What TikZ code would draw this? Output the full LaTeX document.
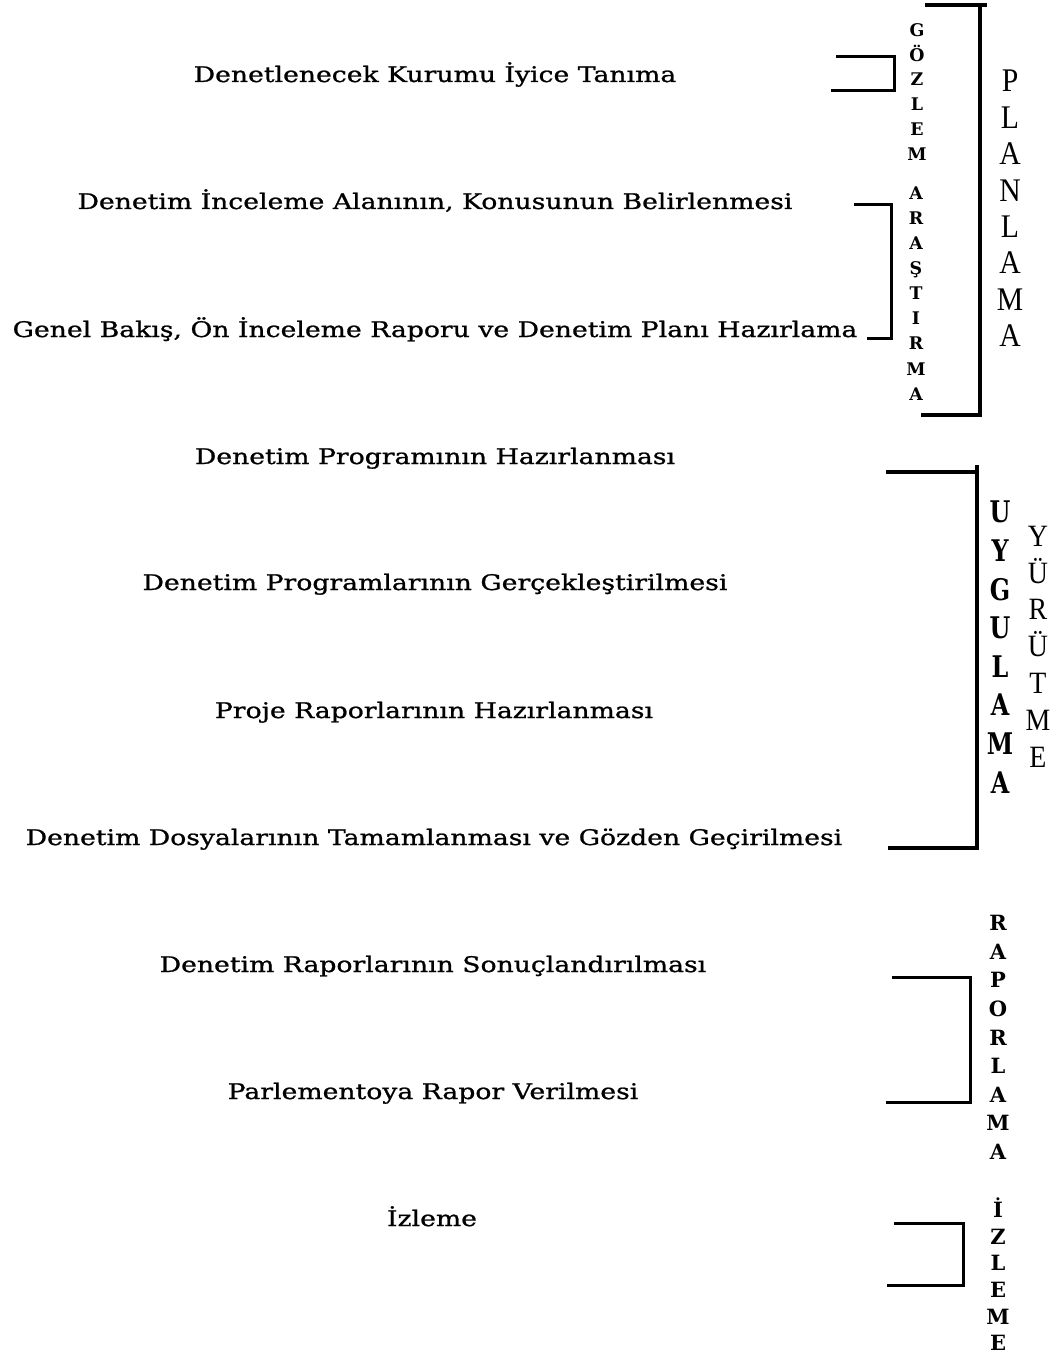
\documentclass[tikz,border=0pt]{standalone}
\usepackage{fontspec}
\setmainfont{DejaVu Serif}
\newfontfamily\bodyfont[FakeStretch=1.24,FakeBold=1]{DejaVu Serif}
\newfontfamily\smallbold[FakeStretch=1.0]{DejaVu Serif Bold}
\newfontfamily\tallbold[FakeStretch=0.8]{DejaVu Serif Bold}
\newfontfamily\romanletters[FakeStretch=0.9]{Liberation Serif}

\tikzset{
  item/.style={font=\bodyfont\fontsize{21.5}{24}\selectfont, anchor=base, inner sep=0pt},
  letter/.style={inner sep=0pt, text depth=0pt, anchor=center},
  gozletter/.style={letter, font=\smallbold\fontsize{17.4}{20}\selectfont, text height=12.7pt},
  rapletter/.style={letter, font=\smallbold\fontsize{21}{24}\selectfont, text height=15.3pt},
  bigletter/.style={letter, font=\romanletters\fontsize{33}{36}\selectfont, text height=21.8pt},
  midletter/.style={letter, font=\romanletters\fontsize{31}{34}\selectfont, text height=20.5pt},
  boldletter/.style={letter, font=\tallbold\fontsize{29.8}{32}\selectfont, text height=21.7pt},
  bracket/.style={line width=3pt, line cap=rect},
  mainbracket/.style={line width=3.4pt, line cap=rect}
}

\begin{document}
\begin{tikzpicture}[x=1pt, y=-1pt]
  \useasboundingbox (0,0) rectangle (1063,1356);
  \fill[white] (0,0) rectangle (1063,1356);

  % audit steps, one per row
  \node[item] (t1)  at (435,82)   {Denetlenecek Kurumu İyice Tanıma};
  \node[item] (t2)  at (435,209)  {Denetim İnceleme Alanının, Konusunun Belirlenmesi};
  \node[item] (t3)  at (435,337)  {Genel Bakış, Ön İnceleme Raporu ve Denetim Planı Hazırlama};
  \node[item] (t4)  at (435,464)  {Denetim Programının Hazırlanması};
  \node[item] (t5)  at (435,590)  {Denetim Programlarının Gerçekleştirilmesi};
  \node[item] (t6)  at (434,718)  {Proje Raporlarının Hazırlanması};
  \node[item] (t7)  at (434,845)  {Denetim Dosyalarının Tamamlanması ve Gözden Geçirilmesi};
  \node[item] (t8)  at (433,972)  {Denetim Raporlarının Sonuçlandırılması};
  \node[item] (t9)  at (433,1099) {Parlementoya Rapor Verilmesi};
  \node[item] (t10) at (432,1226) {İzleme};

  % brackets grouping the steps
  \coordinate (gozA) at (837,57);  \coordinate (gozB) at (832,91);
  \draw[bracket] (gozA) -- (894,57) -- (894,91) -- (gozB);

  \coordinate (araA) at (855,205); \coordinate (araB) at (868,338);
  \draw[bracket] (araA) -- (891,205) -- (891,338) -- (araB);

  \coordinate (plaA) at (927,5);   \coordinate (plaB) at (923,415);
  \draw[mainbracket] (plaA) -- (985,5);
  \draw[mainbracket] (980,5) -- (980,415) -- (plaB);

  \coordinate (uygA) at (888,472); \coordinate (uygB) at (890,848);
  \draw[mainbracket] (uygA) -- (977,472);
  \draw[mainbracket] (977,467) -- (977,848) -- (uygB);

  \coordinate (rapA) at (893,977); \coordinate (rapB) at (887,1102);
  \draw[bracket] (rapA) -- (970,977) -- (970,1102) -- (rapB);

  \coordinate (izlA) at (895,1223); \coordinate (izlB) at (888,1285);
  \draw[bracket] (izlA) -- (963,1223) -- (963,1285) -- (izlB);

  % vertical phase labels
  \foreach \c [count=\i from 0] in {G,Ö,Z,L,E,M}
    \node[gozletter] (goz\i) at (917,30+24.8*\i) {\c};
  \foreach \c [count=\i from 0] in {A,R,A,Ş,T,I,R,M,A}
    \node[gozletter] (ara\i) at (916,193+25.1*\i) {\c};
  \foreach \c [count=\i from 0] in {P,L,A,N,L,A,M,A}
    \node[bigletter] (pla\i) at (1010,81+36.4*\i) {\c};
  \foreach \c [count=\i from 0] in {U,Y,G,U,L,A,M,A}
    \node[boldletter] (uyg\i) at (1000,512+38.6*\i) {\c};
  \foreach \c [count=\i from 0] in {Y,Ü,R,Ü,T,M,E}
    \node[midletter] (yur\i) at (1038,536+36.8*\i) {\c};
  \foreach \c [count=\i from 0] in {R,A,P,O,R,L,A,M,A}
    \node[rapletter] (rap\i) at (998,923+28.6*\i) {\c};
  \foreach \c [count=\i from 0] in {İ,Z,L,E,M,E}
    \node[rapletter] (izl\i) at (998,1210+26.6*\i) {\c};
\end{tikzpicture}
\end{document}
